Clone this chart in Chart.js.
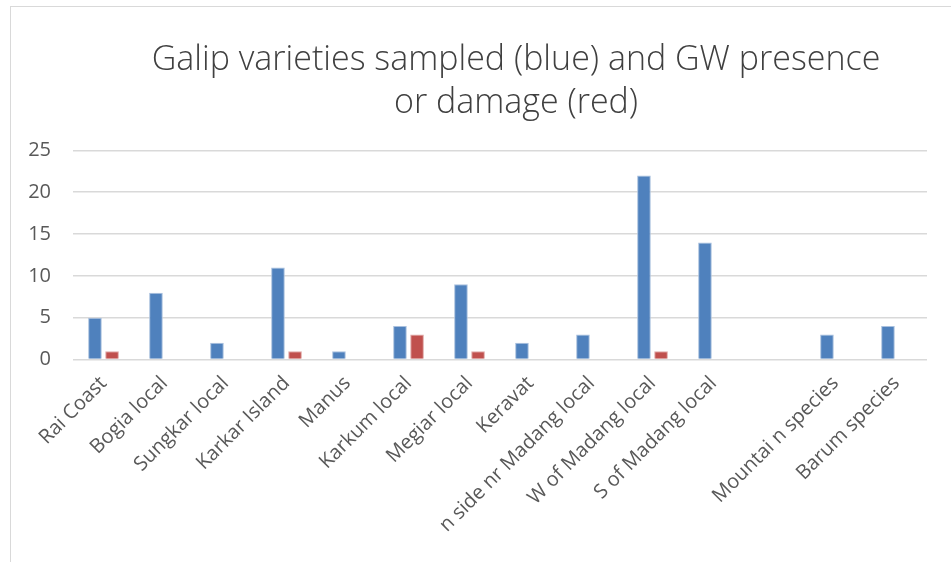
<!DOCTYPE html>
<html>
<head>
<meta charset="utf-8">
<script src="https://cdn.jsdelivr.net/npm/chart.js@4/dist/chart.umd.min.js"></script>
<style>
  html, body { margin: 0; padding: 0; background: #fff; overflow: hidden; }
  #frame {
    position: absolute; left: 10px; top: 6px;
    width: 1010px; height: 600px;
    border: 1px solid #d9d9d9; background: #fff;
  }
  canvas { display: block; }
</style>
</head>
<body>
<div id="frame"><canvas id="galipChart" width="1010" height="534"></canvas></div>
<script>
  const places = [
    'Rai Coast', 'Bogia local', 'Sungkar local', 'Karkar Island', 'Manus',
    'Karkum local', 'Megiar local', 'Keravat', 'n side nr Madang local',
    'W of Madang local', 'S of Madang local', '', 'Mountai n species', 'Barum species'
  ];
  const sampled = [5, 8, 2, 11, 1, 4, 9, 2, 3, 22, 14, null, 3, 4];
  const gwDamage = [1, null, null, 1, null, 3, 1, null, null, 1, null, null, null, null];
  const yTicks = [0, 5, 10, 15, 20, 25];

  const ctx = document.getElementById('galipChart');

  const chart = new Chart(ctx, {
    type: 'bar',
    data: {
      labels: places,
      datasets: [{
        label: 'Sampled',
        data: sampled,
        backgroundColor: '#4f81bd',
        borderColor: '#a9c0de',
        borderWidth: 1,
        barPercentage: 0.8,
        categoryPercentage: 0.56
      }, {
        label: 'GW presence or damage',
        data: gwDamage,
        backgroundColor: '#c0504d',
        borderColor: '#e0a8a6',
        borderWidth: 1,
        barPercentage: 0.8,
        categoryPercentage: 0.56
      }]
    },
    options: {
      responsive: false,
      animation: false,
      layout: {
        padding: { left: 17, right: 17, top: 0, bottom: 0 }
      },
      plugins: {
        legend: { display: false },
        tooltip: { enabled: false },
        title: {
          display: true,
          text: ['Galip varieties sampled (blue) and GW presence', 'or damage (red)'],
          color: '#404040',
          font: { family: 'Open Sans', size: 34, weight: '300', lineHeight: 1.27 },
          padding: { top: 32, bottom: 25 }
        }
      },
      scales: {
        x: {
          grid: { display: false },
          border: { display: false },
          ticks: {
            color: '#595959',
            font: { family: 'Open Sans', size: 20 },
            maxRotation: 45,
            minRotation: 45,
            autoSkip: false,
            padding: 4
          },
          // keep the plot where the original has it, title stays centred on the frame
          afterFit: scale => { scale.paddingLeft = 0; scale.paddingRight = 94; }
        },
        y: {
          min: 0,
          max: 25,
          afterBuildTicks: axis => { axis.ticks = yTicks.map(v => ({ value: v })); },
          grid: { color: '#d9d9d9', lineWidth: 1.5, drawTicks: false },
          border: { display: false },
          ticks: {
            color: '#595959',
            font: { family: 'Open Sans', size: 20 },
            padding: 22
          },
          afterFit: scale => { scale.width = 45; }
        }
      }
    }
  });
</script>
</body>
</html>
